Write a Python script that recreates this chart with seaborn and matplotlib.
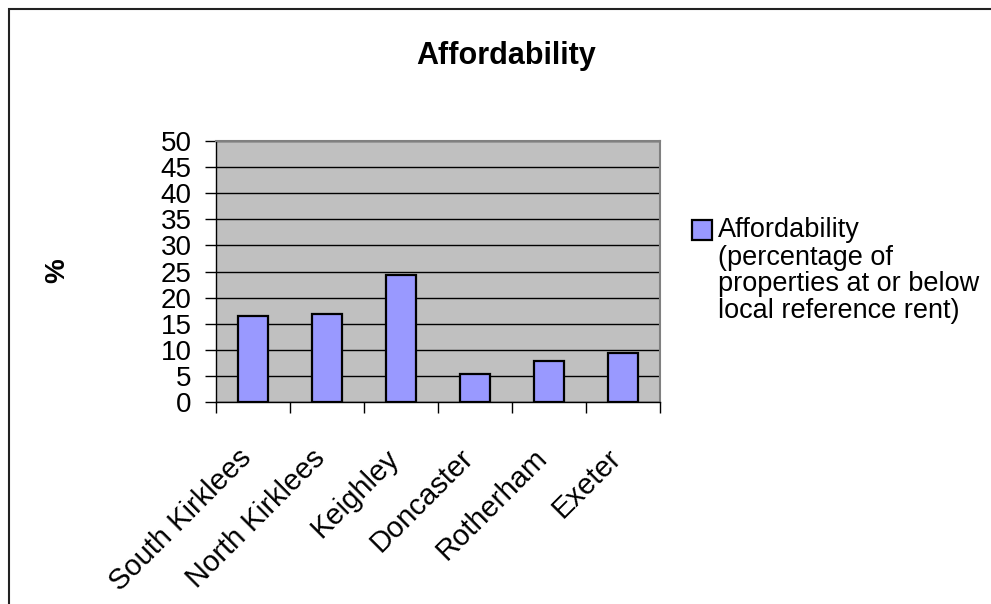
import matplotlib
matplotlib.use("Agg")
import matplotlib.pyplot as plt
import seaborn as sns
import pandas as pd
from matplotlib.patches import Rectangle
from matplotlib.transforms import ScaledTranslation

# Data
areas = ["South Kirklees", "North Kirklees", "Keighley", "Doncaster", "Rotherham", "Exeter"]
values = [16.5, 16.9, 24.4, 5.3, 7.8, 9.4]
yticks = list(range(0, 55, 5))
title = "Affordability"
ylabel = "%"
legend_first = "Affordability"
legend_rest = ["(percentage of", "properties at or below", "local reference rent)"]

sns.set_style("white")
plt.rcParams["font.family"] = ["Liberation Sans", "DejaVu Sans"]
for k in ["text.color", "axes.labelcolor", "xtick.color", "ytick.color"]:
    plt.rcParams[k] = "black"

df = pd.DataFrame({"area": areas, "value": values})

W, H = 991, 604
fig = plt.figure(figsize=(W / 100, H / 100), dpi=100)
fig.patch.set_facecolor("white")

ax = fig.add_axes([216 / W, 1 - 402 / H, 444 / W, 261 / H])
sns.barplot(data=df, x="area", y="value", color="#9999FF", saturation=1,
            width=0.4, edgecolor="black", linewidth=1.6, ax=ax,
            label=legend_first, zorder=3)

ax.set_facecolor("#C0C0C0")
ax.set_ylim(0, 50)
ax.set_xlim(-0.5, len(areas) - 0.5)
ax.set_yticks(yticks)
ax.set_yticklabels([str(t) for t in yticks], fontsize=20)
ax.yaxis.grid(True, color="black", linewidth=1.0, zorder=1)
ax.xaxis.grid(False)
ax.set_axisbelow(True)

# category labels at centers (no tick), boundary ticks as minor ticks
ax.set_xticks(range(len(areas)))
ax.set_xticklabels(areas, fontsize=21, rotation=45, ha="right", va="top",
                   rotation_mode="anchor")
ax.set_xticks([i - 0.5 for i in range(len(areas) + 1)], minor=True)
ax.tick_params(axis="x", which="major", length=0, pad=30)
ax.tick_params(axis="x", which="minor", length=8, width=1, color="black",
               direction="out", bottom=True)
ax.tick_params(axis="y", which="major", length=8, width=1, color="black",
               direction="out", left=True, pad=9.4)
ax.set_xlabel("")
ax.set_ylabel("")
shift = ScaledTranslation(-16 / 100, 0, fig.dpi_scale_trans)
for lbl in ax.get_xticklabels():
    lbl.set_transform(lbl.get_transform() + shift)

for s in ["left", "bottom"]:
    ax.spines[s].set_color("black")
    ax.spines[s].set_linewidth(1.0)
for s in ["top", "right"]:
    ax.spines[s].set_color("#808080")
    ax.spines[s].set_linewidth(1.5)

# Title and y label
fig.text(506.5 / W, 1 - 64 / H, title, fontsize=22, fontweight="bold",
         ha="center", va="baseline")
fig.text(57 / W, 1 - 271 / H, ylabel, fontsize=20, fontweight="bold",
         rotation=90, ha="center", va="center")

# Legend
leg = ax.legend(loc="upper left", bbox_to_anchor=(692 / W, 1 - 217 / H),
                bbox_transform=fig.transFigure, frameon=False, fontsize=19.5,
                handlelength=0.75, handleheight=0.75, handletextpad=0.2,
                borderpad=0, borderaxespad=0)
for p in leg.get_patches():
    p.set_linewidth(1.6)
    p.set_y(p.get_y() - 1.5)
for i, line in enumerate(legend_rest):
    fig.text(718 / W, 1 - (265 + 26.3 * i) / H, line, fontsize=19.5,
             ha="left", va="baseline")

# Outer chart frame (top and left edges visible)
fig.add_artist(Rectangle((9 / W, -0.1), 1.2, 1 - 8.5 / H + 0.1,
                         transform=fig.transFigure, fill=False,
                         edgecolor="#222222", linewidth=1.5))

fig.savefig("out.png", dpi=100)
